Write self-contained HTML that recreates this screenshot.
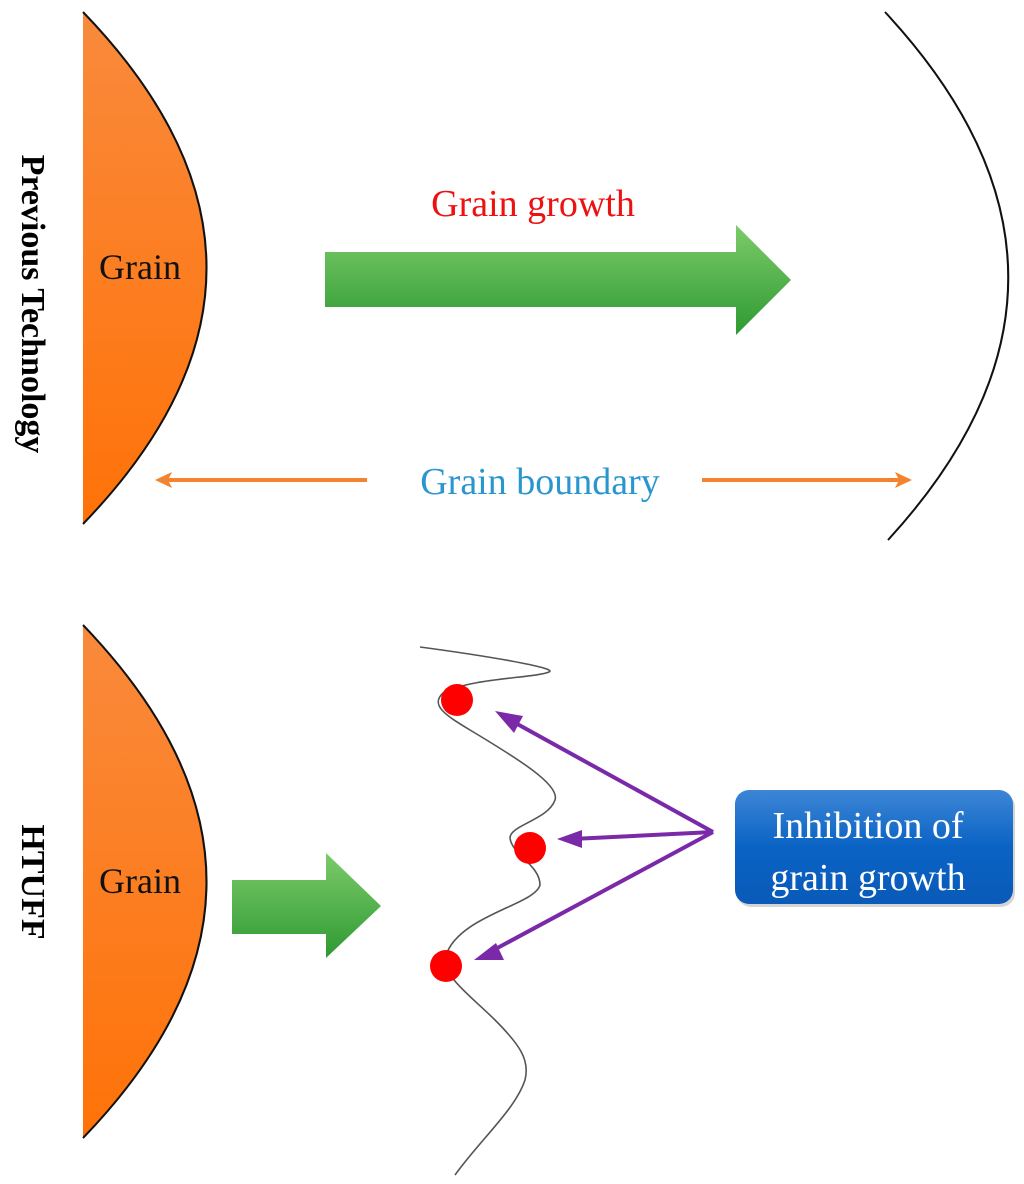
<!DOCTYPE html>
<html><head><meta charset="utf-8"><style>
html,body{margin:0;padding:0;background:#fff;}
svg{display:block;}
</style></head><body>
<svg width="1024" height="1184" viewBox="0 0 1024 1184" xmlns="http://www.w3.org/2000/svg">
<defs>
<linearGradient id="og" x1="0" y1="0" x2="0" y2="1">
<stop offset="0" stop-color="#f98a3c"/><stop offset="1" stop-color="#ff7208"/>
</linearGradient>
<linearGradient id="gg" x1="0" y1="0" x2="0" y2="1">
<stop offset="0" stop-color="#7ccb6a"/><stop offset="1" stop-color="#2e9a32"/>
</linearGradient>
<linearGradient id="bg" x1="0" y1="0" x2="0" y2="1">
<stop offset="0" stop-color="#3d86d6"/><stop offset="0.5" stop-color="#0a63c4"/><stop offset="1" stop-color="#0a5ab8"/>
</linearGradient>
<marker id="pa" markerWidth="6" markerHeight="6" refX="1" refY="3" orient="auto-start-reverse" markerUnits="strokeWidth">
<path d="M0,3 L6,0 L5,3 L6,6 Z" fill="#7a2aa8"/>
</marker>
</defs>

<!-- top grain -->
<path d="M83,12 Q330,268 83,524 Z" fill="url(#og)"/>
<path d="M83,12 Q330,268 83,524" fill="none" stroke="#111" stroke-width="2"/>
<text x="140" y="279" font-family="Liberation Serif" font-size="36" text-anchor="middle" fill="#111">Grain</text>
<text transform="translate(22,304) rotate(90)" font-family="Liberation Serif" font-size="34" font-weight="bold" text-anchor="middle" fill="#000">Previous Technology</text>

<!-- top green arrow -->
<path d="M325,252 L736,252 L736,225 L791,280 L736,335 L736,307 L325,307 Z" fill="url(#gg)"/>
<text x="533" y="216" font-family="Liberation Serif" font-size="38" text-anchor="middle" fill="#ee1111">Grain growth</text>

<!-- right arc -->
<path d="M885,12 Q1130,276 888,540" fill="none" stroke="#111" stroke-width="2"/>

<!-- grain boundary arrow -->
<line x1="168" y1="480" x2="367" y2="480" stroke="#f5822c" stroke-width="4"/>
<path d="M155,480 L172,472 L168,480 L172,488 Z" fill="#f5822c"/>
<line x1="702" y1="480" x2="900" y2="480" stroke="#f5822c" stroke-width="4"/>
<path d="M912,480 L895,472 L899,480 L895,488 Z" fill="#f5822c"/>
<text x="540" y="494" font-family="Liberation Serif" font-size="38" text-anchor="middle" fill="#2a96d0">Grain boundary</text>

<!-- bottom grain -->
<path d="M83,625 Q330,882 83,1138 Z" fill="url(#og)"/>
<path d="M83,625 Q330,882 83,1138" fill="none" stroke="#111" stroke-width="2"/>
<text x="140" y="893" font-family="Liberation Serif" font-size="36" text-anchor="middle" fill="#111">Grain</text>
<text transform="translate(22,882) rotate(90)" font-family="Liberation Serif" font-size="34" font-weight="bold" text-anchor="middle" fill="#000">HTUFF</text>

<!-- bottom green arrow -->
<path d="M232,880 L326,880 L326,853 L381,906 L326,958 L326,934 L232,934 Z" fill="url(#gg)"/>

<!-- wavy boundary -->
<path d="M420,647 C480,655 560,668 549,672 C535,678 470,678 443,693 C430,705 445,715 470,730 C520,760 560,785 555,800 C548,820 510,825 510,838 C512,855 540,865 540,885 C535,905 460,915 446,955 C440,975 470,995 495,1020 C520,1045 530,1060 525,1080 C515,1110 480,1140 455,1175" fill="none" stroke="#555" stroke-width="1.6"/>

<circle cx="457" cy="700" r="16" fill="#ff0000"/>
<circle cx="530" cy="848" r="16" fill="#ff0000"/>
<circle cx="446" cy="966" r="16" fill="#ff0000"/>

<!-- purple arrows -->
<g stroke="#7a2aa8" stroke-width="4" fill="none">
<line x1="713" y1="832" x2="510" y2="720"/>
<line x1="713" y1="832" x2="572" y2="839"/>
<line x1="713" y1="832" x2="490" y2="952"/>
</g>
<g fill="#7a2aa8">
<path d="M495,711 L523,716 L514,733 Z" transform="rotate(0)"/>
<path d="M557,839 L582,830 L582,848 Z"/>
<path d="M474,960 L496,943 L504,960 Z"/>
</g>

<!-- blue box -->
<rect x="737" y="793" width="278" height="114" rx="14" fill="#555" opacity="0.25"/>
<rect x="735" y="790" width="278" height="114" rx="14" fill="url(#bg)"/>
<text x="868" y="838" font-family="Liberation Serif" font-size="38" text-anchor="middle" fill="#fff">Inhibition of</text>
<text x="868" y="890" font-family="Liberation Serif" font-size="38" text-anchor="middle" fill="#fff">grain growth</text>
</svg>
</body></html>
